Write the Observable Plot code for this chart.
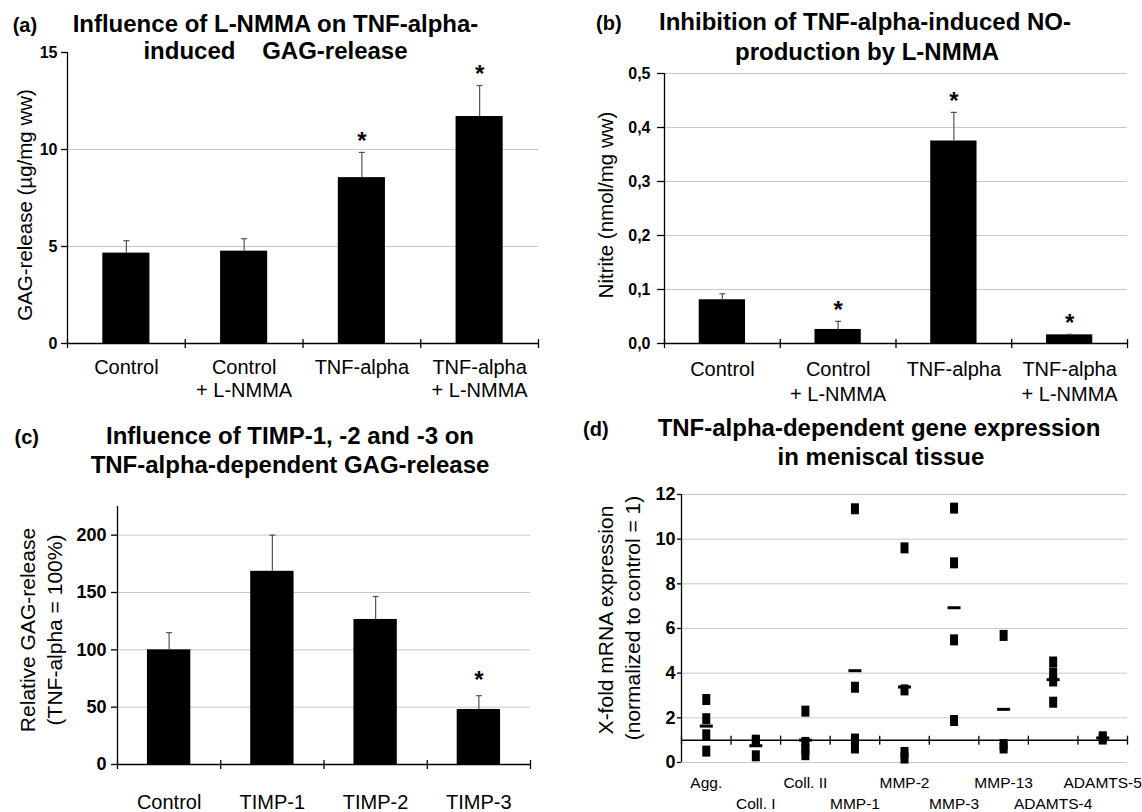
<!DOCTYPE html>
<html><head><meta charset="utf-8">
<script src="https://cdn.jsdelivr.net/npm/d3@7"></script>
<script src="https://cdn.jsdelivr.net/npm/@observablehq/plot@0.6"></script>
<style>
html,body{margin:0;padding:0;background:#fff;}
#root{position:relative;width:1142px;height:812px;overflow:hidden;background:#fff;}
.panel{position:absolute;}
#overlay{position:absolute;left:0;top:0;pointer-events:none;}
</style></head><body><div id="root"></div>
<script>
// ---------------- data ----------------
const conditionsAB = ["Control", "Control\n+ L-NMMA", "TNF-alpha", "TNF-alpha\n+ L-NMMA"];
const gagRelease = [4.66, 4.76, 8.55, 11.7];
const gagReleaseErr = [5.3, 5.4, 9.85, 13.3];
const gagSignificant = [false, false, true, true];
const gagTicks = [0, 5, 10, 15];
const gagGrid = [5, 10];

const nitrite = [0.081, 0.026, 0.375, 0.016];
const nitriteErr = [0.092, 0.041, 0.428, 0.017];
const nitriteSignificant = [false, true, true, true];
const nitriteTicks = [0, 0.1, 0.2, 0.3, 0.4, 0.5];
const nitriteGrid = [0.1, 0.2, 0.3, 0.4, 0.5];

const timpCategories = ["Control", "TIMP-1", "TIMP-2", "TIMP-3"];
const relGag = [100, 168.5, 126.5, 48];
const relGagErr = [115, 200, 146.5, 60];
const relGagSignificant = [false, false, false, true];
const relGagTicks = [0, 50, 100, 150, 200];
const relGagGrid = [50, 100, 150, 200];

const genes = ["Agg.", "Coll. I", "Coll. II", "MMP-1", "MMP-2", "MMP-3", "MMP-13", "ADAMTS-4", "ADAMTS-5"];
const geneSamples = [
  [2.82, 1.96, 1.24, 0.51],
  [1.0, 0.95, 0.3],
  [2.3, 0.9, 0.6, 0.35],
  [11.36, 3.37, 1.05, 0.65],
  [9.61, 3.25, 0.45, 0.2],
  [11.39, 8.94, 5.49, 1.88],
  [5.69, 0.8, 0.65],
  [4.5, 4.0, 3.65, 2.7],
  [1.15, 1.05]
];
const geneMeans = [1.63, 0.75, 1.0, 4.11, 3.38, 6.93, 2.38, 3.71, 1.1];
const geneTicks = [0, 2, 4, 6, 8, 10, 12];
const controlLevel = [1];

// ---------------- helpers ----------------
const FONT = '"Liberation Sans", Arial, Helvetica, sans-serif';
const root = document.getElementById("root");
const rectSymbol = (w, h) => ({draw(ctx) { ctx.rect(-w / 2, -h / 2, w, h); }});
const hLine = (w) => ({draw(ctx) { ctx.moveTo(-w / 2, 0); ctx.lineTo(w / 2, 0); }});
const vLine = (h) => ({draw(ctx) { ctx.moveTo(0, -h / 2); ctx.lineTo(0, h / 2); }});
const commaFmt = d => d3.format(".1f")(d).replace(".", ",");

function place(svg, left, top) {
  const wrap = document.createElement("div");
  wrap.className = "panel";
  wrap.style.left = left + "px";
  wrap.style.top = top + "px";
  wrap.appendChild(svg);
  root.appendChild(wrap);
}

function barPanel(o) {
  const data = o.cats.map((c, i) => ({i, cat: c, value: o.values[i], err: o.errs[i], sig: o.sig[i]}));
  const half = o.barFrac / 2;
  return Plot.plot({
    width: o.width, height: o.height,
    marginLeft: o.m[0], marginRight: o.m[1], marginTop: o.m[2], marginBottom: o.m[3],
    style: {fontFamily: FONT, fontSize: o.tickFont + "px", color: "black", background: "transparent", overflow: "visible"},
    x: {type: "linear", domain: [0, o.cats.length], axis: null},
    y: {domain: o.yDomain, axis: null},
    marks: [
      Plot.gridY(o.grid, {stroke: "#c8c8c8", strokeOpacity: 1, strokeWidth: 1}),
      Plot.rect(data, {x1: d => d.i + 0.5 - half, x2: d => d.i + 0.5 + half, y1: 0, y2: "value", fill: "black"}),
      Plot.ruleX(data, {x: d => d.i + 0.5, y1: "value", y2: "err", stroke: "#555", strokeWidth: 1.2}),
      Plot.dot(data, {x: d => d.i + 0.5, y: "err", symbol: hLine(6), fill: "none", stroke: "#555", strokeWidth: 1.2}),
      Plot.text(data.filter(d => d.sig), {x: d => d.i + 0.5, y: "err", text: () => "*", lineAnchor: "bottom", dy: o.starDy, fontSize: 24, fontWeight: "bold"}),
      Plot.ruleX([0], {stroke: "black", strokeWidth: 1.3}),
      Plot.ruleY([0], {stroke: "black", strokeWidth: 1.3}),
      Plot.dot(d3.range(o.cats.length + 1), {x: d => d, y: () => o.yDomain[0], symbol: vLine(9), fill: "none", stroke: "black", strokeWidth: 1.3}),
      Plot.text(data, {x: d => d.i + 0.5, text: "cat", frameAnchor: "bottom", lineAnchor: "top", dy: o.labelDy, lineHeight: o.labelLH, fontSize: 20, fontWeight: "normal"}),
      Plot.axisY(o.ticks, {tickSize: o.tickSize, tickPadding: o.tickPadding, tickFormat: o.tickFmt, label: null, strokeWidth: 1.3, fontSize: o.tickFont, fontWeight: "bold"})
    ]
  });
}

// (a)
place(barPanel({
  cats: conditionsAB, values: gagRelease, errs: gagReleaseErr, sig: gagSignificant,
  yDomain: [0, 15], ticks: gagTicks, grid: gagGrid, tickFmt: d3.format("d"),
  width: 571, height: 400, m: [67, 33, 52, 57], tickFont: 16, tickSize: 6, tickPadding: 4,
  barFrac: 0.40, starDy: -3, labelDy: 13.7, labelLH: 1.15
}), 0, 0);

// (b)
place(barPanel({
  cats: conditionsAB, values: nitrite, errs: nitriteErr, sig: nitriteSignificant,
  yDomain: [0, 0.5], ticks: nitriteTicks, grid: nitriteGrid, tickFmt: commaFmt,
  width: 571, height: 400, m: [93, 15, 73, 57], tickFont: 16, tickSize: 7, tickPadding: 7,
  barFrac: 0.40, starDy: -3, labelDy: 15, labelLH: 1.25
}), 571, 0);

// (c)
place(barPanel({
  cats: timpCategories, values: relGag, errs: relGagErr, sig: relGagSignificant,
  yDomain: [0, 225], ticks: relGagTicks, grid: relGagGrid, tickFmt: d3.format("d"),
  width: 571, height: 412, m: [117, 41, 106, 48], tickFont: 18, tickSize: 6, tickPadding: 5,
  barFrac: 0.42, starDy: -8, labelDy: 30, labelLH: 1
}), 0, 400);

// (d)
{
  const pts = genes.flatMap((g, i) => geneSamples[i].map(v => ({i, gene: g, value: v})));
  const means = genes.map((g, i) => ({i, gene: g, value: geneMeans[i]}));
  const labels = genes.map((g, i) => ({i, gene: g}));
  const svg = Plot.plot({
    width: 571, height: 412,
    marginLeft: 110, marginRight: 15, marginTop: 94, marginBottom: 50,
    style: {fontFamily: FONT, fontSize: "18px", color: "black", background: "transparent", overflow: "visible"},
    x: {type: "linear", domain: [0, genes.length], axis: null},
    y: {domain: [0, 12], axis: null},
    marks: [
      Plot.gridY(geneTicks, {stroke: "#c8c8c8", strokeOpacity: 1, strokeWidth: 1}),
      Plot.ruleY(controlLevel, {stroke: "black", strokeWidth: 1.5}),
      Plot.dot(d3.range(genes.length + 1), {x: d => d, y: () => controlLevel[0], symbol: vLine(9), fill: "none", stroke: "black", strokeWidth: 1.3}),
      Plot.ruleX([0], {stroke: "black", strokeWidth: 1.3}),
      Plot.dot(pts, {x: d => d.i + 0.5, y: "value", symbol: rectSymbol(8, 11), fill: "black", stroke: "none"}),
      Plot.dot(means, {x: d => d.i + 0.5, y: "value", symbol: rectSymbol(13, 3), fill: "black", stroke: "none"}),
      Plot.text(labels.filter(d => d.i % 2 === 0), {x: d => d.i + 0.5, text: "gene", frameAnchor: "bottom", lineAnchor: "top", dy: 14, fontSize: 15.5, fontWeight: "normal"}),
      Plot.text(labels.filter(d => d.i % 2 === 1), {x: d => d.i + 0.5, text: "gene", frameAnchor: "bottom", lineAnchor: "top", dy: 35, fontSize: 15.5, fontWeight: "normal"}),
      Plot.axisY(geneTicks, {tickSize: 4, tickPadding: 2, tickFormat: d3.format("d"), label: null, strokeWidth: 1.3, fontSize: 18, fontWeight: "bold"})
    ]
  });
  place(svg, 571, 400);
}

// ---------------- titles & axis labels (overlay) ----------------
const overlay = d3.select(root).append("svg").attr("id", "overlay")
  .attr("width", 1142).attr("height", 812)
  .style("font-family", FONT).style("fill", "black");

function txt(x, y, s, size, weight, anchor = "start", rotate = false) {
  const t = overlay.append("text").text(s)
    .attr("font-size", size).attr("font-weight", weight)
    .attr("text-anchor", anchor).style("white-space", "pre");
  if (rotate) t.attr("transform", `translate(${x},${y}) rotate(-90)`);
  else t.attr("x", x).attr("y", y);
  return t;
}

// panel letters
txt(12.7, 32, "(a)", 20, "bold");
txt(596, 30, "(b)", 20, "bold");
txt(14.5, 444, "(c)", 20, "bold");
txt(583, 436, "(d)", 20, "bold");

// titles
txt(275.5, 32, "Influence of L-NMMA on TNF-alpha-", 24, "bold", "middle");
txt(275.5, 59, "induced    GAG-release", 24, "bold", "middle");
txt(865, 30, "Inhibition of TNF-alpha-induced NO-", 24, "bold", "middle");
txt(867, 60, "production by L-NMMA", 24, "bold", "middle");
txt(290, 444, "Influence of TIMP-1, -2 and -3 on", 24, "bold", "middle");
txt(290, 473, "TNF-alpha-dependent GAG-release", 24, "bold", "middle");
txt(879, 436, "TNF-alpha-dependent gene expression", 24, "bold", "middle");
txt(881, 465, "in meniscal tissue", 24, "bold", "middle");

// y-axis labels
txt(31.5, 205, "GAG-release (µg/mg ww)", 20.5, "normal", "middle", true);
txt(613, 205, "Nitrite (nmol/mg ww)", 20.5, "normal", "middle", true);
txt(34.5, 630, "Relative GAG-release", 21, "normal", "middle", true);
txt(62, 630, "(TNF-alpha = 100%)", 21, "normal", "middle", true);
txt(612.5, 620, "X-fold mRNA expression", 21, "normal", "middle", true);
txt(639.5, 618, "(normalized to control = 1)", 21, "normal", "middle", true);
</script></body></html>
